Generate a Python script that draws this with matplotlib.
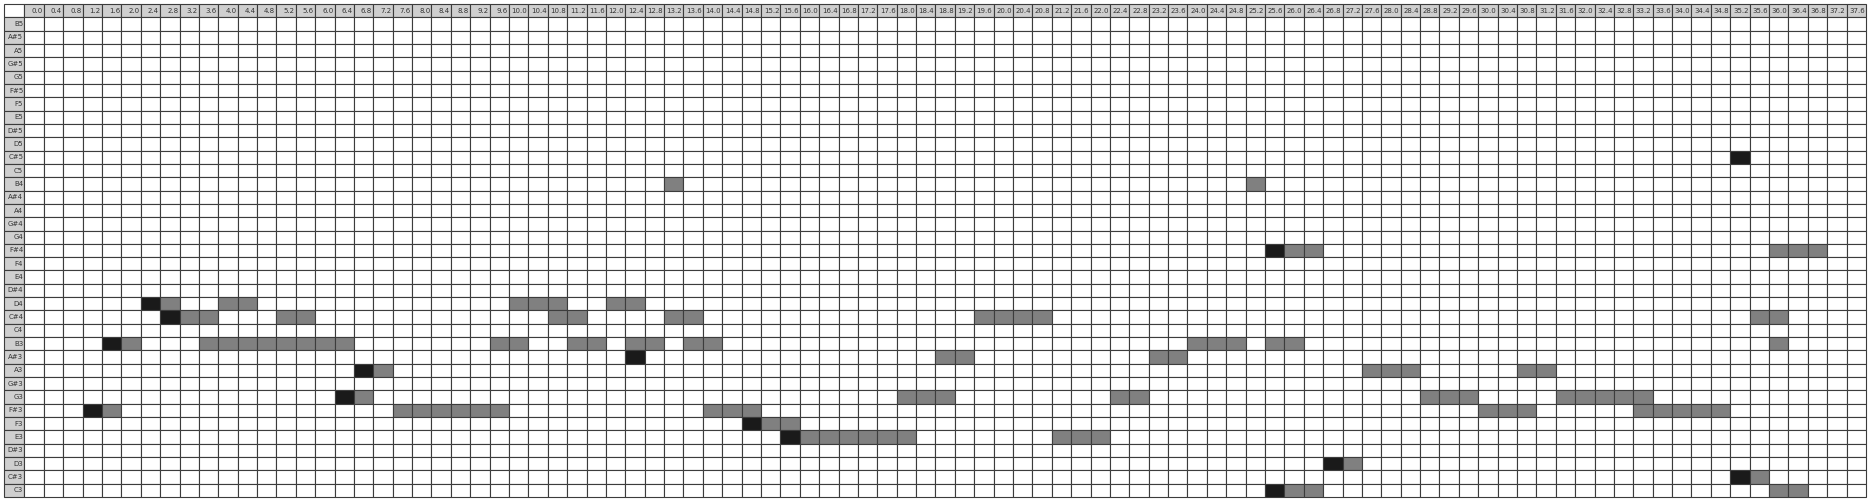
import numpy as np
import matplotlib; matplotlib.use("Agg")
import matplotlib.pyplot as plt

# pitch rows, top to bottom
pitches = ["B5", "A#5", "A5", "G#5", "G5", "F#5", "F5", "E5", "D#5", "D5", "C#5", "C5",
           "B4", "A#4", "A4", "G#4", "G4", "F#4", "F4", "E4", "D#4", "D4", "C#4", "C4",
           "B3", "A#3", "A3", "G#3", "G3", "F#3", "F3", "E3", "D#3", "D3", "C#3", "C3"]
times = [round(0.4 * i, 1) for i in range(95)]

# onsets (dark cells)
onset_pitch = ["F#3", "B3", "D4", "C#4", "G3", "A3", "A#3", "F3", "E3",
               "F#4", "C3", "D3", "C#5", "C#3"]
onset_time = [1.2, 1.6, 2.4, 2.8, 6.4, 6.8, 12.4, 14.8, 15.6,
              25.6, 25.6, 26.8, 35.2, 35.2]

# sustained frames (grey runs): pitch, first frame time, number of frames
sus_pitch = ["B4", "B4",
             "F#4", "F#4",
             "D4", "D4", "D4", "D4",
             "C#4", "C#4", "C#4", "C#4", "C#4", "C#4",
             "B3", "B3", "B3", "B3", "B3", "B3", "B3", "B3", "B3",
             "A#3", "A#3",
             "A3", "A3", "A3",
             "G3", "G3", "G3", "G3", "G3",
             "F#3", "F#3", "F#3", "F#3", "F#3",
             "F3",
             "E3", "E3",
             "D3",
             "C#3",
             "C3", "C3"]
sus_start = [13.2, 25.2,
             26.0, 36.0,
             2.8, 4.0, 10.0, 12.0,
             3.2, 5.2, 10.8, 13.2, 19.6, 35.6,
             2.0, 3.6, 9.6, 11.2, 12.4, 13.6, 24.0, 25.6, 36.0,
             18.8, 23.2,
             7.2, 27.6, 30.8,
             6.8, 18.0, 22.4, 28.8, 31.6,
             1.6, 7.6, 14.0, 30.0, 33.2,
             15.2,
             16.0, 21.2,
             27.2,
             35.6,
             26.0, 36.0]
sus_len = [1, 1,
           2, 3,
           1, 2, 3, 2,
           2, 2, 2, 2, 4, 2,
           1, 8, 2, 2, 2, 2, 3, 2, 1,
           2, 2,
           1, 3, 2,
           1, 3, 2, 3, 5,
           1, 6, 3, 3, 5,
           2,
           6, 3,
           1,
           1,
           2, 2]

C_ON = "#1a1a1a"; C_SUS = "#808080"; C_HEAD = "#cfcfcf"; C_EDGE = "#3c3c3c"

colors = [["white"] * len(times) for _ in pitches]
for p, t, n in zip(sus_pitch, sus_start, sus_len):
    r = pitches.index(p); c = int(round(t / 0.4))
    for k in range(n):
        colors[r][c + k] = C_SUS
for p, t in zip(onset_pitch, onset_time):
    colors[pitches.index(p)][int(round(t / 0.4))] = C_ON

fig = plt.figure(figsize=(18.68, 5.01), dpi=100)
ax = fig.add_axes([0.0021, 0.008, 0.9969, 0.984]); ax.axis("off")
n = len(times); lab = 1.07
cw = 1.0 / n
left = lab / (n + lab)
tbl = ax.table(cellColours=colors, colLabels=[f"{t:.1f}" for t in times],
               colColours=[C_HEAD] * n, colWidths=[cw] * n,
               colLoc="right", bbox=[left, 0, 1 - left, 1])
h = tbl[0, 0].get_height()
tbl.add_cell(0, -1, width=cw * lab, height=h, text="", facecolor="white")
for i, p in enumerate(pitches):
    tbl.add_cell(i + 1, -1, width=cw * lab, height=h, text=p, facecolor=C_HEAD, loc="right")
tbl.auto_set_font_size(False); tbl.set_fontsize(5)
for (r, c), cell in tbl.get_celld().items():
    cell.set_edgecolor(C_EDGE); cell.set_linewidth(0.8)
    cell.get_text().set_color("#333333")
    cell.PAD = 0.06
plt.savefig("out.png", dpi=100)
